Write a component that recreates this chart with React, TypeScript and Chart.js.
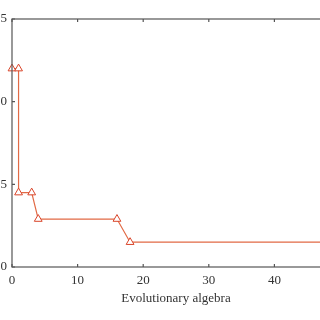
import React, { useEffect, useRef } from "react";
import { Chart, registerables } from "chart.js";

Chart.register(...registerables);

const generations = [0, 1, 1, 3, 4, 16, 18, 50];
const fitness = [12, 12, 4.5, 4.5, 2.9, 2.9, 1.5, 1.5];
const xTitle = "Evolutionary algebra";
const xMin = 0;
const xMax = 50;
const xStep = 10;
const yMin = 0;
const yMax = 15;
const yStep = 5;

const boxPlugin = {
  id: "boxTicks",
  afterDraw(chart: any) {
    const { ctx, chartArea } = chart;
    const { left, right, top, bottom } = chartArea;
    const xs = chart.scales.x;
    const ys = chart.scales.y;
    ctx.save();
    ctx.strokeStyle = "#555";
    ctx.lineWidth = 1.2;
    ctx.strokeRect(left, top, right - left, bottom - top);
    const len = 3;
    ctx.beginPath();
    xs.ticks.forEach((t: any) => {
      const px = xs.getPixelForValue(t.value);
      ctx.moveTo(px, bottom);
      ctx.lineTo(px, bottom - len);
      ctx.moveTo(px, top);
      ctx.lineTo(px, top + len);
    });
    ys.ticks.forEach((t: any) => {
      const py = ys.getPixelForValue(t.value);
      ctx.moveTo(left, py);
      ctx.lineTo(left + len, py);
      ctx.moveTo(right, py);
      ctx.lineTo(right - len, py);
    });
    ctx.stroke();
    ctx.restore();
  },
};

export default function App() {
  const ref = useRef<HTMLCanvasElement>(null);
  useEffect(() => {
    if (!ref.current) return;
    const font = { family: "'Liberation Serif', 'DejaVu Serif', serif", size: 13 };
    const chart = new Chart(ref.current, {
      type: "line",
      data: {
        datasets: [
          {
            data: generations.map((g, i) => ({ x: g, y: fitness[i] })),
            borderColor: "#e26a45",
            borderWidth: 1.2,
            pointStyle: "triangle",
            pointRadius: 4.5,
            pointBorderColor: "#d9452a",
            pointBackgroundColor: "#ffffff",
            pointBorderWidth: 1,
            tension: 0,
            fill: false,
            clip: false,
          },
        ],
      },
      options: {
        animation: false,
        responsive: false,
        devicePixelRatio: 1,
        layout: { padding: { top: 19, right: 20, bottom: 0, left: 0 } },
        plugins: { legend: { display: false }, tooltip: { enabled: false } },
        scales: {
          x: {
            type: "linear",
            min: xMin,
            max: xMax,
            grid: { display: false, drawTicks: false },
            border: { display: false },
            ticks: { stepSize: xStep, padding: 6, color: "#333", font },
            title: {
              display: true,
              text: xTitle,
              color: "#333",
              font,
              padding: { top: 0, bottom: 14 },
            },
            afterFit: (s: any) => {
              s.height = 53;
            },
          },
          y: {
            type: "linear",
            min: yMin,
            max: yMax,
            grid: { display: false, drawTicks: false },
            border: { display: false },
            ticks: { stepSize: yStep, padding: 5, color: "#333", font },
            afterFit: (s: any) => {
              s.width = 52;
            },
          },
        },
      },
      plugins: [boxPlugin],
    });
    return () => chart.destroy();
  }, []);
  return (
    <div
      style={{
        position: "fixed",
        left: 0,
        top: 0,
        width: 320,
        height: 320,
        overflow: "hidden",
        background: "#fff",
      }}
    >
      <canvas
        ref={ref}
        width={400}
        height={320}
        style={{ position: "absolute", left: -40, top: 0, width: 400, height: 320 }}
      />
    </div>
  );
}
